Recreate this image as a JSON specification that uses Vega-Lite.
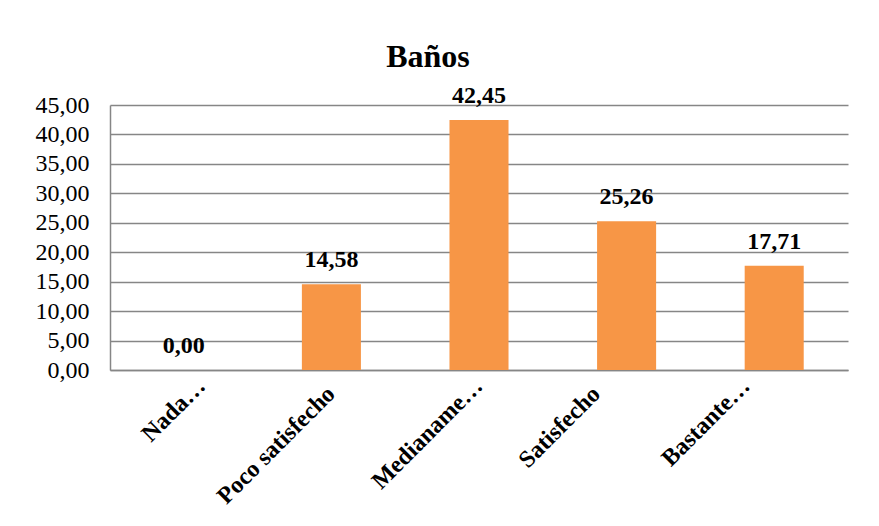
{
  "$schema": "https://vega.github.io/schema/vega-lite/v6.json",
  "autosize": {"type": "none"},
  "padding": {"left": 110, "top": 105, "right": 31, "bottom": 156},
  "width": 738,
  "height": 265,
  "background": "white",
  "config": {
    "locale": {"number": {"decimal": ",", "thousands": ".", "grouping": [3], "currency": ["", " €"]}},
    "font": "Liberation Serif",
    "view": {"stroke": null}
  },
  "title": {
    "text": "Baños",
    "font": "Liberation Serif",
    "fontSize": 32,
    "fontWeight": "bold",
    "color": "black",
    "anchor": "middle",
    "dx": -51,
    "dy": 54,
    "baseline": "alphabetic",
    "offset": 39
  },
  "data": {
    "values": [
      {"categoria": "Nada…", "valor": 0.00},
      {"categoria": "Poco satisfecho", "valor": 14.58},
      {"categoria": "Medianame…", "valor": 42.45},
      {"categoria": "Satisfecho", "valor": 25.26},
      {"categoria": "Bastante…", "valor": 17.71}
    ]
  },
  "encoding": {
    "x": {
      "field": "categoria",
      "type": "nominal",
      "sort": null,
      "scale": {"paddingInner": 0.6, "paddingOuter": 0.3},
      "axis": {
        "title": null,
        "labelAngle": -45,
        "labelAlign": "right",
        "labelBaseline": "middle",
        "labelFont": "Liberation Serif",
        "labelFontSize": 24,
        "labelFontWeight": "bold",
        "labelColor": "black",
        "labelPadding": {"expr": "datum.label == 'Nada…' || datum.label == 'Medianame…' || datum.label == 'Bastante…' ? 12 : 20"},
        "labelOffset": {"expr": "datum.label == 'Nada…' ? 18 : datum.label == 'Satisfecho' ? -30 : datum.label == 'Bastante…' ? -28 : 0"},
        "labelLimit": 400,
        "ticks": false,
        "domainColor": "#868686",
        "domainWidth": 1.5
      }
    },
    "y": {
      "field": "valor",
      "type": "quantitative",
      "scale": {"domain": [0, 45], "nice": false},
      "axis": {
        "title": null,
        "values": [0, 5, 10, 15, 20, 25, 30, 35, 40, 45],
        "format": ".2f",
        "labelFont": "Liberation Serif",
        "labelFontSize": 24,
        "labelColor": "black",
        "labelPadding": 21,
        "ticks": false,
        "grid": true,
        "gridColor": "#868686",
        "gridWidth": 1.3,
        "domainColor": "#868686",
        "domainWidth": 1.5
      }
    }
  },
  "layer": [
    {"mark": {"type": "bar", "color": "#F79646"}},
    {
      "mark": {
        "type": "text",
        "font": "Liberation Serif",
        "fontSize": 24,
        "fontWeight": "bold",
        "color": "black",
        "baseline": "alphabetic",
        "dy": -17
      },
      "encoding": {"text": {"field": "valor", "type": "quantitative", "format": ".2f"}}
    }
  ]
}
